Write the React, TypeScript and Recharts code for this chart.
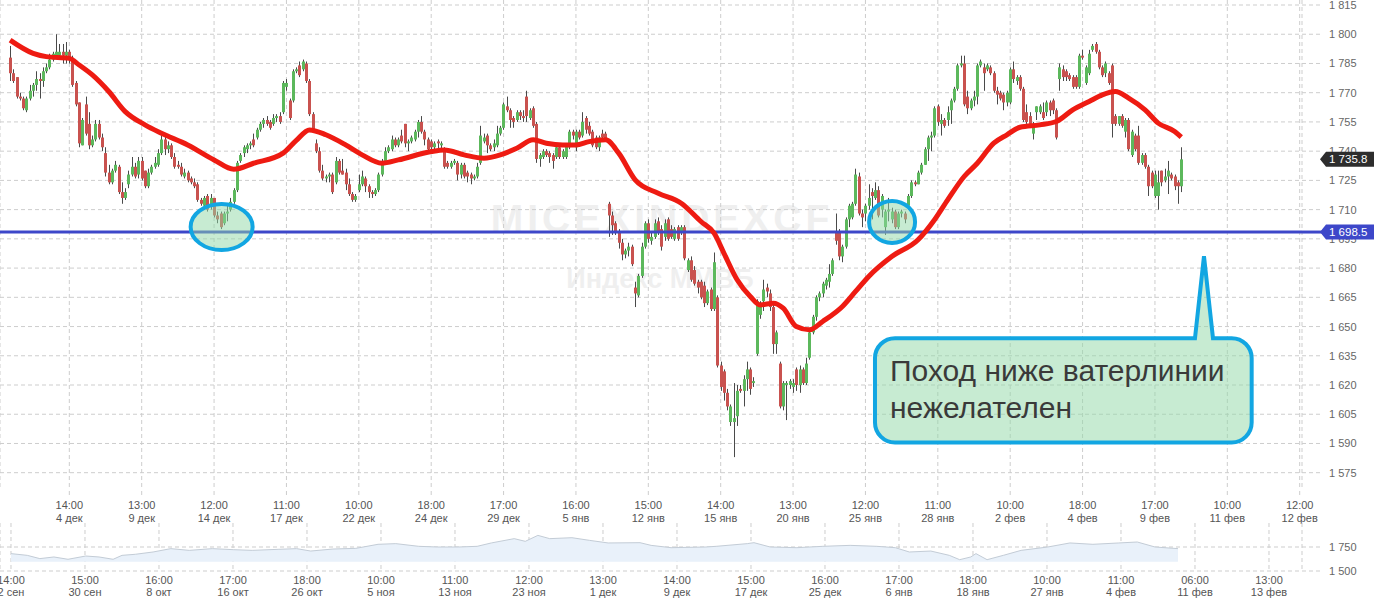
import React from 'react';
import {
  Area,
  Bar,
  CartesianGrid,
  ComposedChart,
  Line,
  ReferenceArea,
  ReferenceDot,
  ReferenceLine,
  XAxis,
  YAxis,
} from 'recharts';

// свеча: [open, high, low, close]
type Ohlc = [number, number, number, number];

// свечи, разбитые по интервалам между подписями оси времени
const sessionsToDec04: Ohlc[] = [
  [1788, 1794, 1776, 1780], [1780, 1782, 1775, 1776], [1778, 1778, 1767, 1768], [1768, 1770, 1766, 1767],
  [1767, 1768, 1761, 1762], [1761, 1768, 1760, 1767], [1767, 1774, 1766, 1771], [1771, 1775, 1768, 1774],
  [1774, 1781, 1771, 1777], [1777, 1780, 1767, 1776], [1776, 1783, 1773, 1781], [1781, 1785, 1780, 1783],
  [1783, 1790, 1782, 1787], [1787, 1791, 1786, 1790], [1789, 1800, 1788, 1791], [1789, 1795, 1787, 1791],
  [1791, 1795, 1785, 1789], [1789, 1796, 1785, 1791],
];
const fromDec04: Ohlc[] = [
  [1791, 1792, 1785, 1787], [1788, 1789, 1773, 1774], [1775, 1776, 1763, 1764], [1765, 1765, 1742, 1744],
  [1743, 1757, 1743, 1756], [1764, 1768, 1748, 1749], [1754, 1760, 1741, 1743], [1743, 1748, 1742, 1746],
  [1746, 1756, 1745, 1754], [1754, 1756, 1746, 1747], [1747, 1749, 1740, 1742], [1739, 1742, 1727, 1729],
  [1729, 1733, 1723, 1724], [1724, 1731, 1723, 1730], [1730, 1735, 1729, 1733], [1732, 1733, 1718, 1719],
  [1719, 1724, 1713, 1716], [1716, 1721, 1715, 1719], [1723, 1730, 1721, 1728], [1728, 1737, 1727, 1732],
  [1732, 1734, 1726, 1727], [1728, 1737, 1726, 1735],
];
const fromDec09: Ohlc[] = [
  [1735, 1737, 1725, 1726], [1730, 1730, 1721, 1722], [1722, 1731, 1721, 1729], [1729, 1733, 1728, 1732],
  [1732, 1737, 1731, 1734], [1733, 1741, 1732, 1739], [1739, 1748, 1738, 1746], [1746, 1749, 1738, 1741],
  [1741, 1745, 1739, 1743], [1743, 1744, 1736, 1737], [1737, 1739, 1731, 1732], [1733, 1735, 1731, 1732],
  [1732, 1734, 1727, 1728], [1727, 1731, 1726, 1729], [1729, 1730, 1724, 1725], [1726, 1727, 1723, 1724],
  [1724, 1726, 1721, 1722], [1723, 1724, 1714, 1715], [1715, 1716, 1712, 1713], [1712, 1717, 1710, 1716],
  [1717, 1718, 1709, 1710], [1712, 1718, 1710, 1716],
];
const fromDec14: Ohlc[] = [
  [1716, 1716, 1706, 1707], [1707, 1709, 1703, 1705], [1708, 1709, 1700, 1701], [1703, 1709, 1702, 1708],
  [1708, 1712, 1704, 1709], [1710, 1716, 1709, 1714], [1714, 1721, 1713, 1720], [1720, 1735, 1719, 1734],
  [1735, 1739, 1734, 1738], [1739, 1743, 1737, 1742], [1741, 1744, 1739, 1743], [1743, 1745, 1741, 1744],
  [1746, 1749, 1742, 1743], [1747, 1752, 1746, 1751], [1751, 1755, 1750, 1754], [1754, 1757, 1752, 1756],
  [1756, 1758, 1753, 1754], [1755, 1756, 1751, 1752], [1754, 1759, 1753, 1757], [1757, 1759, 1755, 1758],
  [1758, 1760, 1754, 1755], [1760, 1776, 1759, 1775],
];
const fromDec17: Ohlc[] = [
  [1773, 1777, 1771, 1775], [1766, 1767, 1756, 1757], [1766, 1782, 1765, 1781], [1781, 1783, 1780, 1782],
  [1784, 1786, 1778, 1779], [1782, 1787, 1781, 1786], [1785, 1786, 1775, 1776], [1776, 1777, 1758, 1759],
  [1759, 1760, 1750, 1751], [1744, 1746, 1739, 1740], [1740, 1742, 1729, 1730], [1730, 1733, 1725, 1726],
  [1726, 1728, 1724, 1727], [1727, 1729, 1724, 1728], [1728, 1729, 1718, 1719], [1724, 1737, 1723, 1735],
  [1735, 1736, 1728, 1729], [1730, 1736, 1728, 1728], [1729, 1731, 1720, 1723], [1723, 1726, 1717, 1718],
  [1718, 1719, 1714, 1715], [1715, 1718, 1714, 1717],
];
const fromDec22: Ohlc[] = [
  [1720, 1728, 1719, 1723], [1723, 1730, 1722, 1727], [1726, 1727, 1719, 1722], [1722, 1723, 1716, 1719],
  [1719, 1720, 1716, 1718], [1718, 1721, 1717, 1720], [1720, 1729, 1719, 1728], [1728, 1736, 1727, 1735],
  [1735, 1742, 1734, 1740], [1740, 1743, 1739, 1742], [1741, 1748, 1740, 1746], [1746, 1747, 1742, 1743],
  [1743, 1747, 1742, 1746], [1748, 1751, 1744, 1745], [1754, 1754, 1742, 1744], [1744, 1746, 1740, 1745],
  [1745, 1748, 1744, 1747], [1746, 1751, 1745, 1750], [1750, 1756, 1747, 1755], [1755, 1758, 1749, 1750],
  [1750, 1751, 1743, 1746], [1746, 1747, 1740, 1741],
];
const fromDec24: Ohlc[] = [
  [1745, 1746, 1741, 1742], [1742, 1745, 1741, 1744], [1745, 1746, 1741, 1744], [1743, 1745, 1740, 1744],
  [1741, 1742, 1731, 1732], [1734, 1735, 1731, 1732], [1732, 1735, 1731, 1734], [1734, 1736, 1733, 1735],
  [1734, 1735, 1725, 1728], [1728, 1734, 1726, 1733], [1733, 1734, 1726, 1727], [1729, 1730, 1724, 1727],
  [1728, 1729, 1723, 1726], [1726, 1728, 1725, 1727], [1727, 1734, 1726, 1732], [1734, 1753, 1733, 1748],
  [1745, 1749, 1744, 1747], [1748, 1749, 1739, 1743], [1743, 1744, 1740, 1741], [1742, 1746, 1740, 1744],
  [1743, 1753, 1742, 1749], [1749, 1753, 1748, 1752],
];
const fromDec29: Ohlc[] = [
  [1752, 1765, 1751, 1764], [1763, 1768, 1760, 1761], [1761, 1762, 1752, 1756], [1757, 1758, 1752, 1755],
  [1756, 1761, 1755, 1760], [1760, 1761, 1756, 1758], [1758, 1761, 1755, 1757], [1768, 1771, 1755, 1758],
  [1757, 1762, 1756, 1761], [1762, 1763, 1752, 1753], [1754, 1755, 1734, 1736], [1736, 1739, 1732, 1738],
  [1737, 1741, 1736, 1740], [1740, 1741, 1737, 1738], [1739, 1740, 1734, 1737], [1738, 1739, 1731, 1735],
  [1737, 1744, 1736, 1742], [1742, 1743, 1736, 1737], [1737, 1741, 1736, 1740], [1737, 1744, 1736, 1743],
  [1742, 1751, 1741, 1750], [1750, 1751, 1746, 1748],
];
const fromJan05: Ohlc[] = [
  [1742, 1751, 1740, 1750], [1750, 1751, 1746, 1747], [1748, 1760, 1747, 1755], [1757, 1758, 1749, 1751],
  [1753, 1755, 1748, 1749], [1750, 1751, 1742, 1743], [1747, 1748, 1741, 1742], [1742, 1748, 1740, 1747],
  [1749, 1751, 1746, 1747], [1749, 1750, 1745, 1746], [1713, 1714, 1696, 1707], [1707, 1709, 1697, 1702],
  [1703, 1704, 1697, 1698], [1698, 1700, 1690, 1693], [1693, 1695, 1684, 1687], [1687, 1690, 1685, 1689],
  [1689, 1693, 1686, 1691], [1691, 1692, 1681, 1682], [1670, 1673, 1660, 1667], [1666, 1677, 1665, 1676],
  [1676, 1693, 1675, 1691], [1691, 1704, 1690, 1703],
];
const fromJan12: Ohlc[] = [
  [1703, 1705, 1693, 1695], [1694, 1699, 1692, 1696], [1696, 1705, 1695, 1703], [1704, 1706, 1697, 1698],
  [1700, 1702, 1689, 1691], [1696, 1705, 1694, 1703], [1705, 1706, 1694, 1695], [1700, 1702, 1695, 1696],
  [1695, 1701, 1694, 1700], [1701, 1702, 1694, 1695], [1698, 1702, 1697, 1701], [1701, 1702, 1684, 1685],
  [1679, 1685, 1678, 1684], [1684, 1686, 1673, 1674], [1679, 1681, 1671, 1672], [1673, 1674, 1667, 1670],
  [1673, 1674, 1664, 1665], [1671, 1673, 1660, 1662], [1662, 1669, 1661, 1668], [1669, 1670, 1658, 1659],
  [1659, 1688, 1658, 1683], [1665, 1666, 1629, 1630],
];
const fromJan15: Ohlc[] = [
  [1630, 1632, 1617, 1619], [1627, 1628, 1612, 1616], [1616, 1618, 1607, 1609], [1601, 1610, 1599, 1609],
  [1601, 1621, 1583, 1603], [1604, 1620, 1599, 1617], [1618, 1620, 1616, 1617], [1617, 1625, 1609, 1623],
  [1623, 1632, 1617, 1628], [1628, 1629, 1615, 1618], [1621, 1624, 1619, 1622], [1636, 1664, 1635, 1663],
  [1656, 1663, 1654, 1662], [1663, 1674, 1658, 1669], [1670, 1672, 1665, 1668], [1667, 1669, 1658, 1660],
  [1660, 1661, 1636, 1641], [1641, 1648, 1636, 1647], [1631, 1632, 1608, 1609], [1609, 1622, 1607, 1621],
  [1620, 1622, 1602, 1621], [1620, 1623, 1618, 1622],
];
const fromJan20: Ohlc[] = [
  [1619, 1623, 1616, 1621], [1628, 1629, 1617, 1620], [1620, 1630, 1616, 1628], [1628, 1629, 1620, 1621],
  [1621, 1634, 1620, 1631], [1634, 1648, 1633, 1647], [1647, 1656, 1646, 1655], [1655, 1666, 1653, 1665],
  [1665, 1668, 1663, 1667], [1667, 1673, 1665, 1672], [1671, 1675, 1669, 1674], [1673, 1682, 1670, 1677],
  [1677, 1685, 1676, 1684], [1698, 1708, 1692, 1694], [1698, 1700, 1684, 1686], [1686, 1692, 1683, 1691],
  [1691, 1706, 1690, 1705], [1705, 1713, 1701, 1712], [1706, 1714, 1705, 1713], [1713, 1731, 1712, 1728],
  [1727, 1729, 1707, 1708], [1708, 1710, 1701, 1706],
];
const fromJan25: Ohlc[] = [
  [1708, 1713, 1704, 1712], [1712, 1723, 1710, 1716], [1719, 1721, 1705, 1717], [1716, 1724, 1715, 1720],
  [1720, 1722, 1706, 1707], [1710, 1718, 1706, 1717], [1701, 1710, 1697, 1709], [1709, 1716, 1704, 1710],
  [1705, 1711, 1703, 1709], [1709, 1710, 1700, 1701], [1701, 1709, 1700, 1708], [1708, 1710, 1706, 1709],
  [1708, 1709, 1703, 1705], [1712, 1718, 1710, 1717], [1717, 1725, 1716, 1724], [1724, 1725, 1722, 1723],
  [1723, 1730, 1723, 1729], [1729, 1734, 1728, 1733], [1733, 1742, 1733, 1741], [1741, 1748, 1735, 1747],
  [1747, 1750, 1740, 1748], [1748, 1763, 1747, 1762],
];
const fromJan28: Ohlc[] = [
  [1763, 1764, 1753, 1755], [1754, 1759, 1748, 1756], [1756, 1757, 1752, 1753], [1756, 1763, 1753, 1760],
  [1761, 1767, 1754, 1766], [1766, 1773, 1765, 1772], [1772, 1785, 1771, 1784], [1784, 1789, 1783, 1785],
  [1785, 1789, 1763, 1764], [1768, 1771, 1759, 1762], [1762, 1767, 1761, 1766], [1766, 1771, 1763, 1768],
  [1768, 1785, 1764, 1784], [1784, 1787, 1783, 1786], [1783, 1785, 1771, 1780], [1782, 1785, 1781, 1784],
  [1783, 1784, 1779, 1780], [1780, 1781, 1770, 1771], [1771, 1773, 1764, 1769], [1770, 1771, 1766, 1767],
  [1769, 1770, 1761, 1765], [1765, 1771, 1763, 1770],
];
const fromFeb02: Ohlc[] = [
  [1765, 1783, 1764, 1782], [1782, 1786, 1775, 1777], [1776, 1779, 1774, 1778], [1778, 1779, 1771, 1772],
  [1772, 1773, 1755, 1756], [1760, 1764, 1754, 1755], [1758, 1760, 1753, 1754], [1749, 1755, 1746, 1754],
  [1760, 1763, 1756, 1763], [1760, 1764, 1759, 1763], [1760, 1765, 1756, 1757], [1760, 1766, 1758, 1765],
  [1765, 1766, 1758, 1761], [1766, 1767, 1759, 1761], [1761, 1762, 1746, 1747], [1777, 1785, 1771, 1783],
  [1782, 1784, 1776, 1778], [1781, 1782, 1776, 1778], [1779, 1780, 1776, 1777], [1778, 1779, 1772, 1773],
  [1778, 1779, 1772, 1773], [1773, 1790, 1772, 1789],
];
const fromFeb04: Ohlc[] = [
  [1789, 1792, 1787, 1788], [1775, 1784, 1774, 1783], [1780, 1792, 1779, 1790], [1792, 1795, 1791, 1794],
  [1795, 1796, 1790, 1791], [1791, 1792, 1782, 1783], [1783, 1784, 1778, 1779], [1780, 1786, 1778, 1785],
  [1780, 1781, 1774, 1775], [1784, 1785, 1747, 1754], [1758, 1759, 1753, 1754], [1754, 1758, 1753, 1758],
  [1758, 1759, 1752, 1753], [1750, 1757, 1747, 1756], [1756, 1757, 1740, 1741], [1738, 1751, 1737, 1750],
  [1748, 1749, 1740, 1741], [1748, 1753, 1733, 1734], [1734, 1739, 1733, 1738], [1738, 1739, 1731, 1732],
  [1732, 1733, 1717, 1722], [1729, 1730, 1721, 1722],
];
const fromFeb09: Ohlc[] = [
  [1717, 1730, 1716, 1728], [1717, 1730, 1710, 1724], [1730, 1730, 1722, 1724], [1725, 1731, 1724, 1727],
  [1727, 1735, 1718, 1730], [1728, 1729, 1725, 1726], [1727, 1728, 1720, 1722], [1724, 1725, 1713, 1722],
  [1722, 1742, 1719, 1735.8],
];

// скользящая средняя (номер свечи / значение)
const maIndex = [
  0, 7, 11, 18, 21, 25, 30, 35, 41, 46, 54, 62, 68, 74, 83, 87, 91, 96, 102, 107, 113, 118, 128, 132, 138,
  144, 149, 154, 159, 163, 168, 172, 176, 181, 185, 190, 197, 204, 210, 214, 217, 221, 225, 228, 232, 235,
  239, 243, 247, 253, 257, 261, 268, 276, 281, 285, 290, 294, 299, 303, 307, 313, 318, 323, 328, 332, 336,
  340, 345, 349, 354, 356,
];
const maValue = [
  1797, 1790.2, 1788.5, 1787.6, 1784.2, 1779.1, 1770.6, 1760.3, 1753.5, 1749.2, 1743.2, 1735.5, 1730.7,
  1733.8, 1739, 1745.5, 1750.9, 1748.4, 1743.2, 1738.1, 1733.8, 1735.5, 1739.8, 1740.6, 1738.1, 1736.4,
  1738.1, 1741.5, 1745.8, 1744.1, 1743.2, 1743.2, 1744.9, 1745.8, 1739, 1725.3, 1718.4, 1713.3, 1703.9,
  1697.9, 1687.6, 1674, 1665.4, 1661.1, 1662, 1659.4, 1650, 1648.3, 1652.6, 1660.3, 1668, 1675.7, 1685.9,
  1694.5, 1704.8, 1715, 1727, 1733.8, 1744.1, 1748.4, 1752.3, 1753.5, 1755.2, 1761.2, 1765.5, 1768.9,
  1770.6, 1767.2, 1761.2, 1754.4, 1750.1, 1747.2,
];

const lastClose = 1735.8;
const waterline = 1698.5;

const yTicks = [1575, 1590, 1605, 1620, 1635, 1650, 1665, 1680, 1695, 1710, 1725, 1740, 1755, 1770, 1785, 1800, 1815];
const xTickIdx = [18, 40, 62, 84, 106, 128, 150, 172, 194, 216, 238, 260, 282, 304, 326, 348, 370, 392];
const xTickTime = ['14:00', '13:00', '12:00', '11:00', '10:00', '18:00', '17:00', '16:00', '15:00', '14:00', '13:00', '12:00', '11:00', '10:00', '18:00', '17:00', '10:00', '12:00'];
const xTickDate = ['4 дек', '9 дек', '14 дек', '17 дек', '22 дек', '24 дек', '29 дек', '5 янв', '12 янв', '15 янв', '20 янв', '25 янв', '28 янв', '2 фев', '4 фев', '9 фев', '11 фев', '12 фев'];

// навигатор (весь период)
const navPos = [
  0, 2.2, 3.9, 5.8, 7.7, 10.1, 11.9, 13.8, 15, 16.8, 19.2, 21.6, 24.1, 27.2, 30.1, 32.6, 36.2, 38.6, 40.5,
  43.5, 46.6, 49.6, 52, 55.1, 57.6, 60.5, 63, 64.9, 68, 69.5, 71.2, 72.8, 75.8, 78.2, 80.7, 85, 86.5, 89.2,
  93.9, 95.3, 99.5, 100.4, 102.6, 106.2, 109.7, 113.4, 117, 119.5, 121.4, 124.3, 126.8, 128.2, 129.7, 130.4,
  131.9, 134.1, 136.5, 140.1, 143.1, 146.2, 149.7, 152.2, 154.6, 157.7,
];
const navValue = [
  1681, 1663, 1629, 1646, 1622, 1656, 1646, 1622, 1663, 1674, 1698, 1733, 1715, 1733, 1722, 1715, 1726, 1733,
  1708, 1729, 1736, 1778, 1785, 1757, 1750, 1750, 1757, 1792, 1837, 1809, 1871, 1837, 1847, 1819, 1792, 1795,
  1767, 1743, 1750, 1757, 1785, 1795, 1750, 1743, 1757, 1767, 1757, 1743, 1698, 1708, 1663, 1618, 1646, 1681,
  1618, 1663, 1715, 1750, 1792, 1778, 1792, 1802, 1750, 1733,
];
const navYTicks = [1500, 1750];
const navTickPos = [0, 10, 20, 30, 40, 50, 60, 70, 80, 90, 100, 110, 120, 130, 140, 150, 160, 170];
const navTickTime = ['14:00', '15:00', '16:00', '17:00', '18:00', '10:00', '11:00', '12:00', '13:00', '14:00', '15:00', '16:00', '17:00', '18:00', '10:00', '11:00', '06:00', '13:00'];
const navTickDate = ['2 сен', '30 сен', '8 окт', '16 окт', '26 окт', '5 ноя', '13 ноя', '23 ноя', '1 дек', '9 дек', '17 дек', '25 дек', '6 янв', '18 янв', '27 янв', '4 фев', '11 фев', '13 фев'];

const noteLines = ['Поход ниже ватерлинии', 'нежелателен'];

const sessions: Ohlc[] = [
  ...sessionsToDec04, ...fromDec04, ...fromDec09, ...fromDec14, ...fromDec17, ...fromDec22, ...fromDec24,
  ...fromDec29, ...fromJan05, ...fromJan12, ...fromJan15, ...fromJan20, ...fromJan25, ...fromJan28,
  ...fromFeb02, ...fromFeb04, ...fromFeb09,
];
const candles = sessions.map(([o, h, l, c], i) => ({ i, o, h, l, c }));
const maLine = maIndex.map((i, k) => ({ i, ma: maValue[k] }));
const navData = navPos.map((n, k) => ({ n, v: navValue[k] }));

const FONT = '"Liberation Sans", Arial, sans-serif';
const GRID = '#cdcdcd';
const BLUE = '#3d47c9';
const UP = '#5cb85c';
const DOWN = '#c9524f';
const NOTE_STROKE = '#12a6e2';
const NOTE_FILL = 'rgba(143, 215, 165, 0.5)';

// 1815 -> "1 815"
const fmt = (v: number) => {
  const [int, dec] = String(v).split('.');
  const head = int.slice(0, int.length - 3);
  return (head ? head + ' ' : '') + int.slice(-3) + (dec ? '.' + dec : '');
};

const renderCandle = (props: any) => {
  const { x, y, width, height, payload } = props;
  if (!payload || height == null) return <g />;
  const { o, h, l, c } = payload;
  const span = h - l || 1;
  const py = (v: number) => y + ((h - v) / span) * height;
  const top = py(Math.max(o, c));
  const bot = py(Math.min(o, c));
  const cx = Math.round(x + width / 2) + 0.5;
  return (
    <g>
      <line x1={cx} x2={cx} y1={y} y2={y + height} stroke="#4a4a4a" strokeWidth={1} />
      <rect x={cx - 1.5} y={top} width={3} height={Math.max(bot - top, 1)} fill={c >= o ? UP : DOWN} />
    </g>
  );
};

const PriceTick = (props: any) => {
  const { x, y, payload } = props;
  const v = payload.value as number;
  const edge = x - 26;
  if (v === lastClose || v === waterline) {
    const bg = v === lastClose ? '#2d2d2d' : BLUE;
    return (
      <g>
        {v === waterline && <line x1={edge} x2={x - 6} y1={y} y2={y} stroke={BLUE} strokeWidth={3} />}
        <path d={`M${x - 8},${y} L${x - 2},${y - 7.5} H${x + 46} V${y + 7.5} H${x - 2} Z`} fill={bg} />
        <text x={x + 1} y={y} dy="0.36em" fill="#fff" fontSize={11.5} fontFamily={FONT}>{fmt(v)}</text>
      </g>
    );
  }
  return (
    <g>
      <line x1={edge} x2={edge + 20} y1={y} y2={y} stroke={GRID} strokeDasharray="4 3" />
      <text x={x + 1} y={y} dy="0.36em" fill="#666" fontSize={11} fontFamily={FONT}>{fmt(v)}</text>
    </g>
  );
};

const MainXTick = (props: any) => {
  const { x, y, payload } = props;
  const k = xTickIdx.indexOf(payload.value);
  return (
    <g fill="#555" fontSize={11} textAnchor="middle" fontFamily={FONT}>
      <text x={x} y={y + 14}>{xTickTime[k]}</text>
      <text x={x} y={y + 27}>{xTickDate[k]}</text>
    </g>
  );
};

const NavXTick = (props: any) => {
  const { x, y, payload } = props;
  const k = navTickPos.indexOf(payload.value);
  return (
    <g fill="#555" fontSize={11} textAnchor="middle" fontFamily={FONT}>
      <text x={x} y={y + 13}>{navTickTime[k]}</text>
      <text x={x} y={y + 25}>{navTickDate[k]}</text>
    </g>
  );
};

const ring = (rx: number, ry: number) => (p: any) => (
  <ellipse cx={p.cx} cy={p.cy} rx={rx} ry={ry} fill={NOTE_FILL} stroke={NOTE_STROKE} strokeWidth={4} />
);

const Callout = (props: any) => {
  const { x, y, width: w, height: h } = props;
  const r = 20;
  const d = `M${x + r},${y} H${x + 320} L${x + 329},${y - 82} L${x + 338},${y} H${x + w - r} ` +
    `A${r},${r} 0 0 1 ${x + w},${y + r} V${y + h - r} A${r},${r} 0 0 1 ${x + w - r},${y + h} ` +
    `H${x + r} A${r},${r} 0 0 1 ${x},${y + h - r} V${y + r} A${r},${r} 0 0 1 ${x + r},${y} Z`;
  return (
    <g fontFamily={FONT}>
      <path d={d} fill={NOTE_FILL} stroke={NOTE_STROKE} strokeWidth={4} />
      <text x={x + 15} y={y + 43} fontSize={30} fill="#3a3a3a">{noteLines[0]}</text>
      <text x={x + 15} y={y + 80} fontSize={30} fill="#3a3a3a">{noteLines[1]}</text>
    </g>
  );
};

export default function App() {
  return (
    <div style={{ position: 'absolute', left: 0, top: 0, width: 1380, height: 604, background: '#fff', overflow: 'hidden', fontFamily: FONT }}>
      {/* водяной знак */}
      <svg width={1380} height={604} style={{ position: 'absolute', left: 0, top: 0 }}>
        <text x={662} y={232} textAnchor="middle" fontSize={39} fontWeight="bold" letterSpacing={4} fill="#efefef" fontFamily={FONT}>
          MICEXINDEXCF
        </text>
        <text x={660} y={288} textAnchor="middle" fontSize={27} fontWeight="bold" fill="#efefef" fontFamily={FONT}>
          Индекс ММВБ
        </text>
      </svg>

      <div style={{ position: 'absolute', left: 0, top: 0 }}>
        <ComposedChart width={1380} height={528} data={candles} margin={{ top: 0, right: 0, bottom: 0, left: 0 }}>
          <CartesianGrid stroke={GRID} strokeDasharray="4 3" horizontalValues={yTicks} />
          <XAxis
            dataKey="i"
            type="number"
            domain={[-3.07, 392.7]}
            allowDataOverflow
            ticks={xTickIdx}
            interval={0}
            tickSize={7}
            tickMargin={0}
            tickLine={{ stroke: GRID, strokeDasharray: '4 3' }}
            axisLine={false}
            height={40}
            tick={MainXTick}
          />
          <YAxis
            orientation="right"
            type="number"
            domain={[1567.15, 1817.57]}
            allowDataOverflow
            ticks={[...yTicks, lastClose, waterline]}
            interval={0}
            tickSize={20}
            tickMargin={6}
            tickLine={false}
            axisLine={false}
            width={78}
            tick={PriceTick}
          />
          <Bar dataKey={(d: any) => [d.l, d.h]} barSize={3} shape={renderCandle} isAnimationActive={false} />
          <ReferenceLine y={waterline} stroke={BLUE} strokeWidth={3} />
          <Line
            data={maLine}
            dataKey="ma"
            type="monotone"
            stroke="#ee1b12"
            strokeWidth={5}
            dot={false}
            activeDot={false}
            isAnimationActive={false}
          />
          <ReferenceDot x={64.3} y={1701.1} r={1} shape={ring(31, 23)} />
          <ReferenceDot x={268.1} y={1703.7} r={1} shape={ring(23, 21)} />
          <ReferenceArea x1={262.9} x2={377.4} y1={1590.5} y2={1644.05} shape={Callout} ifOverflow="visible" />
        </ComposedChart>
      </div>

      <div style={{ position: 'absolute', left: 0, top: 515 }}>
        <ComposedChart width={1380} height={89} data={navData} margin={{ top: 8, right: 0, bottom: 0, left: 0 }}>
          <CartesianGrid stroke={GRID} strokeDasharray="4 3" horizontalValues={navYTicks} />
          <XAxis
            dataKey="n"
            type="number"
            domain={[-1.486, 174.46]}
            allowDataOverflow
            ticks={navTickPos}
            interval={0}
            tickSize={0}
            tickMargin={0}
            tickLine={false}
            axisLine={false}
            height={33}
            tick={NavXTick}
          />
          <YAxis
            orientation="right"
            type="number"
            domain={[1500, 2000]}
            allowDataOverflow
            ticks={navYTicks}
            interval={0}
            tickSize={20}
            tickMargin={6}
            tickLine={false}
            axisLine={false}
            width={78}
            tick={PriceTick}
          />
          <Area
            dataKey="v"
            type="linear"
            stroke="#c3ccd6"
            strokeWidth={1}
            fill="#e9f1fa"
            fillOpacity={1}
            baseValue={1597}
            dot={false}
            activeDot={false}
            isAnimationActive={false}
          />
        </ComposedChart>
      </div>
    </div>
  );
}
